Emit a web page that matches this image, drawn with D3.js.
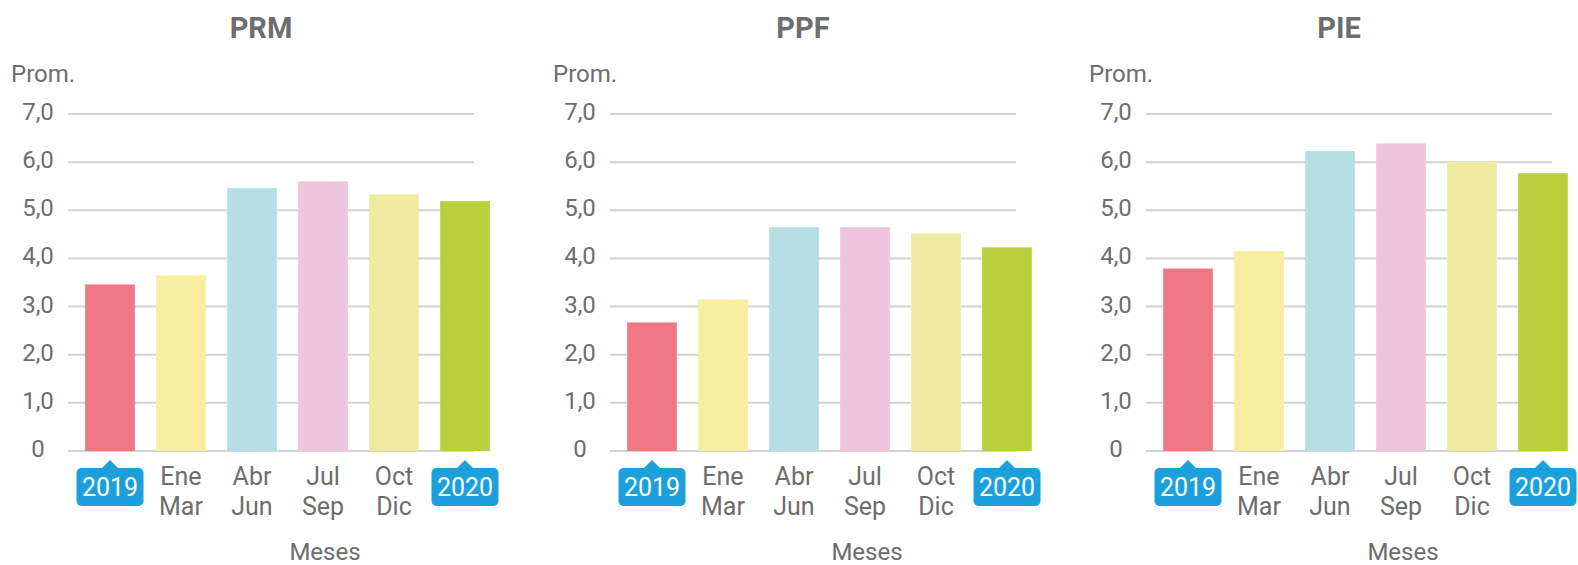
<!DOCTYPE html>
<html>
<head>
<meta charset="utf-8">
<script src="https://cdn.jsdelivr.net/npm/d3@7"></script>
<style>
  body { margin: 0; background: #fff; }
  svg { display: block; font-family: Roboto, "Open Sans", sans-serif; }
</style>
</head>
<body>
<svg width="1578" height="565"></svg>
<script>
// data
var titles = ['PRM', 'PPF', 'PIE'];
var periods = ['2019', 'Ene-Mar', 'Abr-Jun', 'Jul-Sep', 'Oct-Dic', '2020'];
var prmValues = [3.46, 3.65, 5.46, 5.6, 5.33, 5.19];
var ppfValues = [2.67, 3.15, 4.65, 4.65, 4.52, 4.23];
var pieValues = [3.79, 4.15, 6.23, 6.39, 6.01, 5.77];
var yTicks = [0, 1, 2, 3, 4, 5, 6, 7];
var barColors = ['#f07884', '#f9eda2', '#b6dfe3', '#efc5de', '#f0e9a0', '#b9cf3b'];

var series = [prmValues, ppfValues, pieValues];
var panelX = [0, 542, 1078];

var svg = d3.select('svg');
var grey = '#6d6d6d';

var y = d3.scaleLinear().domain([0, 7]).range([451, 114]);

series.forEach(function(values, p) {
    var ox = panelX[p];
    var g = svg.append('g').attr('transform', 'translate(' + ox + ',0)');

    var x = d3.scaleBand()
        .domain(periods)
        .range([74.5, 500.5])
        .paddingInner(0.3)
        .paddingOuter(0.15);

    var gridLeft = 68, gridRight = 474;

    // gridlines
    g.selectAll('line.grid')
        .data(yTicks)
        .enter().append('line')
        .attr('class', 'grid')
        .attr('x1', gridLeft).attr('x2', gridRight)
        .attr('y1', function(d) { return y(d); })
        .attr('y2', function(d) { return y(d); })
        .attr('stroke', '#d2d2d2')
        .attr('stroke-width', 2);

    // y tick labels
    g.selectAll('text.ytick')
        .data(yTicks)
        .enter().append('text')
        .attr('class', 'ytick')
        .attr('x', 38)
        .attr('y', function(d) { return y(d) + 6; })
        .attr('text-anchor', 'middle')
        .attr('fill', grey)
        .attr('font-size', 24)
        .text(function(d) { return d === 0 ? '0' : d3.format('.1f')(d).replace('.', ','); });

    // bars
    g.selectAll('rect.bar')
        .data(values)
        .enter().append('rect')
        .attr('class', 'bar')
        .attr('x', function(d, i) { return x(periods[i]); })
        .attr('width', x.bandwidth())
        .attr('y', function(d) { return y(d); })
        .attr('height', function(d) { return y(0) - y(d); })
        .attr('fill', function(d, i) { return barColors[i]; });

    // title
    g.append('text')
        .attr('x', 261)
        .attr('y', 38)
        .attr('text-anchor', 'middle')
        .attr('font-size', 29)
        .attr('font-weight', 'bold')
        .attr('fill', grey)
        .text(titles[p]);

    g.append('text')
        .attr('x', 11)
        .attr('y', 82)
        .attr('fill', grey)
        .attr('font-size', 24)
        .text('Prom.');

    // x labels
    periods.forEach(function(name, i) {
        var cx = x(name) + x.bandwidth() / 2;
        if (name.indexOf('-') < 0) {
            var bw = 67, bh = 38, top = 468;
            g.append('path')
                .attr('d', 'M' + (cx - 9) + ',' + (top + 1) + 'L' + cx + ',' + (top - 8) + 'L' + (cx + 9) + ',' + (top + 1) + 'Z')
                .attr('fill', '#1ba0db');
            g.append('rect')
                .attr('x', cx - bw / 2).attr('y', top)
                .attr('width', bw).attr('height', bh)
                .attr('rx', 5)
                .attr('fill', '#1ba0db');
            g.append('text')
                .attr('x', cx).attr('y', top + 28)
                .attr('text-anchor', 'middle')
                .attr('fill', '#fff')
                .attr('font-size', 25)
                .text(name);
        } else {
            var parts = name.split('-');
            var t = g.append('text')
                .attr('text-anchor', 'middle')
                .attr('fill', grey)
                .attr('font-size', 25);
            t.append('tspan').attr('x', cx).attr('y', 485).text(parts[0]);
            t.append('tspan').attr('x', cx).attr('y', 515).text(parts[1]);
        }
    });

    g.append('text')
        .attr('x', 325)
        .attr('y', 560)
        .attr('text-anchor', 'middle')
        .attr('fill', grey)
        .attr('font-size', 24)
        .text('Meses');
});
</script>
</body>
</html>
